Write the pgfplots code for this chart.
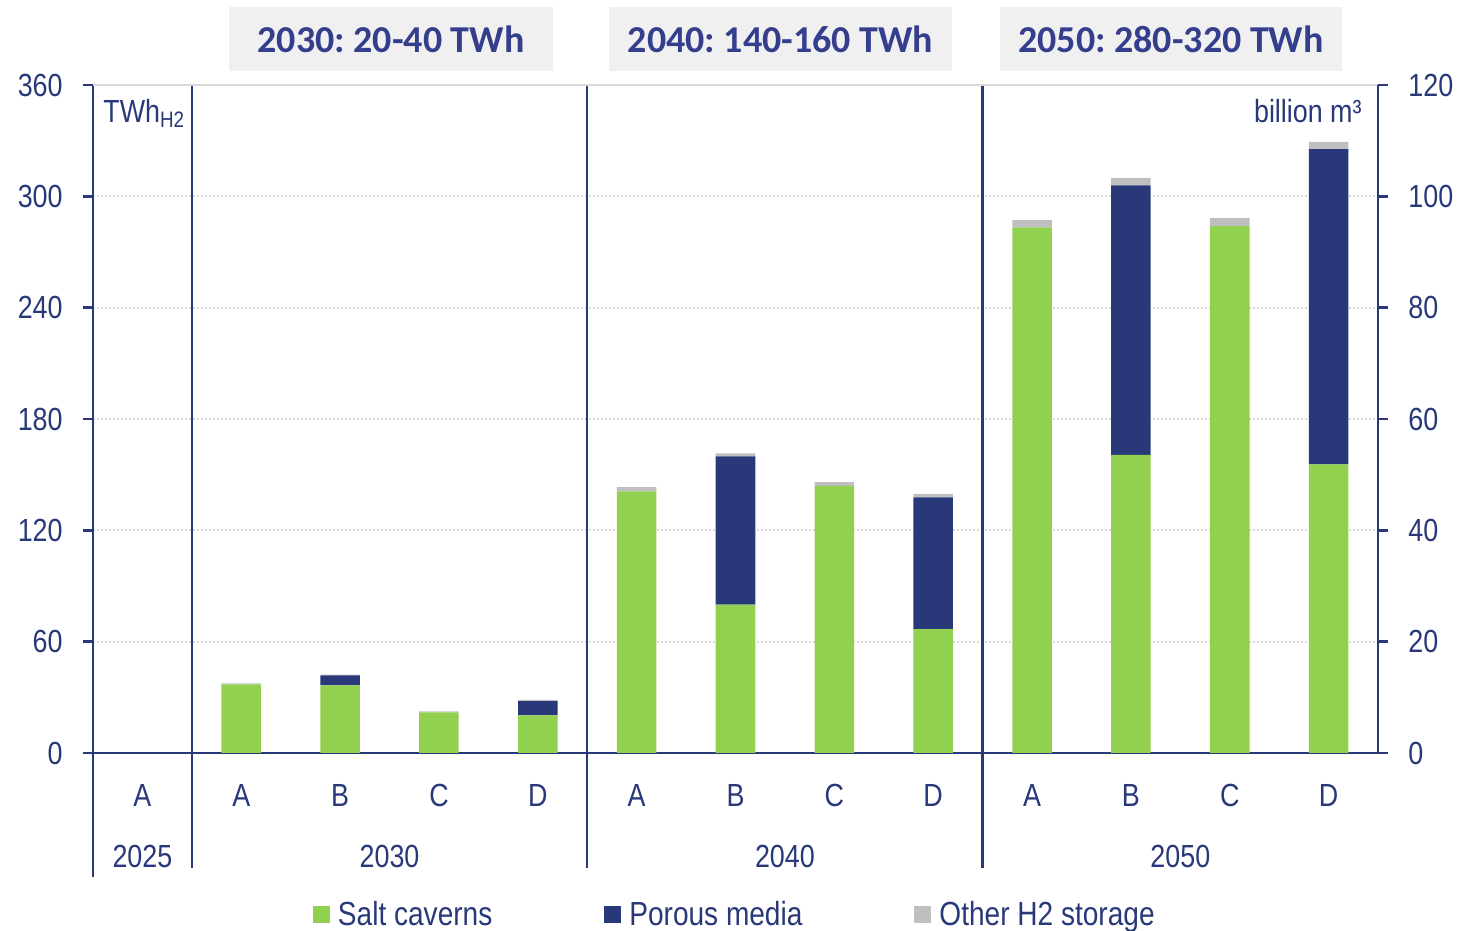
\documentclass[border=0pt]{standalone}
\usepackage{pgfplots}
\pgfplotsset{compat=1.18}
\usepackage{pgfplotstable}
\usepackage{fontspec}
\setmainfont{Liberation Sans}[FakeStretch=0.84]
\newfontfamily\hdrfont{Carlito}

\definecolor{navy}{RGB}{40,56,120}
\definecolor{salt}{RGB}{146,208,80}
\definecolor{other}{RGB}{191,191,191}
\definecolor{gridgray}{RGB}{217,217,217}
\definecolor{hdrbg}{RGB}{240,240,240}
\definecolor{hdrtext}{RGB}{52,62,140}

\newcommand\lblfont{\fontsize{16}{19}\selectfont}
\newcommand\legfont{\fontsize{16.7}{20}\selectfont}
\newcommand\hdrsize{\hdrfont\bfseries\fontsize{19}{23}\selectfont}

\pgfplotsset{sqlegend/.style={legend image code/.code={\fill[#1] (0pt,-4.25pt) rectangle (8.5pt,4.25pt);}}}

% Storage volume (TWh H2) per scenario; positions 0..12 = 2025 A, 2030 A-D, 2040 A-D, 2050 A-D
\pgfplotstableread{
x  salt   porous  other
0  0      0       0
1  37.0   0       0.5
2  36.5   5.4     0.4
3  21.9   0       0.5
4  20.3   7.7     0.6
5  141.0  0       2.3
6  79.9   80.0    1.6
7  143.9  0       2.1
8  66.7   71.1    1.8
9  283.3  0       3.9
10 160.6  145.3   4.0
11 284.0  0       4.3
12 155.6  169.9   3.8
}\storagedata

\begin{document}
\frenchspacing
\begin{tikzpicture}
\begin{axis}[
  scale only axis, width=642.5pt, height=334pt,
  xmin=-0.5, xmax=12.5, ymin=0, ymax=360,
  axis x line*=bottom, axis y line*=left,
  axis line style={navy, line width=1.2pt, -},
  ytick={0,60,...,360},
  tick align=outside,
  major tick length=5pt,
  ytick style={navy, line width=1.2pt},
  xtick={0,...,12},
  xticklabels={A,A,B,C,D,A,B,C,D,A,B,C,D},
  xtick style={draw=none},
  x tick label style={anchor=center, yshift=-16pt, inner sep=0pt},
  y tick label style={anchor=east, inner sep=0pt, xshift=-10pt},
  tick label style={font=\lblfont, text=navy},
  /pgf/number format/assume math mode=true,
  ymajorgrids,
  grid style={gridgray, line width=1pt, dash pattern=on 1pt off 1pt},
  ybar stacked, bar width=0.4,
  clip=false,
  legend columns=3,
  legend style={at={(0.1712,-0.2425)}, anchor=west, draw=none, fill=none,
    inner sep=0pt, outer sep=0pt, font=\legfont, text=navy,
    nodes={inner sep=0pt},
    /tikz/every odd column/.style={column sep=4pt},
    /tikz/every even column/.style={column sep=56pt}},
]
\addplot[fill=salt, draw=none, sqlegend=salt] table[x=x, y=salt] {\storagedata};
\addplot[fill=navy, draw=none, sqlegend=navy] table[x=x, y=porous] {\storagedata};
\addplot[fill=other, draw=none, sqlegend=other] table[x=x, y=other] {\storagedata};
\legend{Salt caverns, Porous media, Other H2 storage}

% top border and year separators
\draw[gridgray, line width=1.2pt] (axis cs:-0.5,360) -- (axis cs:12.5,360);
\draw[navy, line width=1.2pt] (axis cs:0.5,360) -- (axis cs:0.5,-62);
\draw[navy, line width=1.2pt] (axis cs:4.5,360) -- (axis cs:4.5,-62);
\draw[navy, line width=1.2pt] (axis cs:8.5,360) -- (axis cs:8.5,-62);
\draw[navy, line width=1.2pt] (axis cs:-0.5,0) -- (axis cs:-0.5,-67);

% year labels
\node[text=navy, font=\lblfont] at (axis cs:0,-56) {2025};
\node[text=navy, font=\lblfont] at (axis cs:2.5,-56) {2030};
\node[text=navy, font=\lblfont] at (axis cs:6.5,-56) {2040};
\node[text=navy, font=\lblfont] at (axis cs:10.5,-56) {2050};

% units
\node[text=navy, font=\lblfont, anchor=base west, inner sep=0pt, xshift=5pt] at (axis cs:-0.5,340) {TWh\textsubscript{H2}};
\node[text=navy, font=\lblfont, anchor=base east, inner sep=0pt, xshift=-8pt] at (axis cs:12.5,340) {billion m³};
\end{axis}

\begin{axis}[
  scale only axis, width=642.5pt, height=334pt,
  xmin=-0.5, xmax=12.5, ymin=0, ymax=120,
  axis x line=none, axis y line*=right,
  axis line style={navy, line width=1.2pt, -},
  ytick={0,20,...,120},
  tick align=outside,
  major tick length=5pt,
  ytick style={navy, line width=1.2pt},
  y tick label style={anchor=west, inner sep=0pt, xshift=10pt, font=\lblfont, text=navy},
  /pgf/number format/assume math mode=true,
]
\end{axis}

% scenario range headers
\fill[hdrbg] (68pt,341pt) rectangle (230pt,373pt);
\fill[hdrbg] (258pt,341pt) rectangle (429.5pt,373pt);
\fill[hdrbg] (453.5pt,341pt) rectangle (624.5pt,373pt);
\node[text=hdrtext, font=\hdrsize] at (149pt,357pt) {2030: 20-40 TWh};
\node[text=hdrtext, font=\hdrsize] at (343.75pt,357pt) {2040: 140-160 TWh};
\node[text=hdrtext, font=\hdrsize] at (539pt,357pt) {2050: 280-320 TWh};

\pgfresetboundingbox
\path[use as bounding box] (-46.5pt,-89pt) rectangle (682.5pt,376.5pt);
\end{tikzpicture}
\end{document}
